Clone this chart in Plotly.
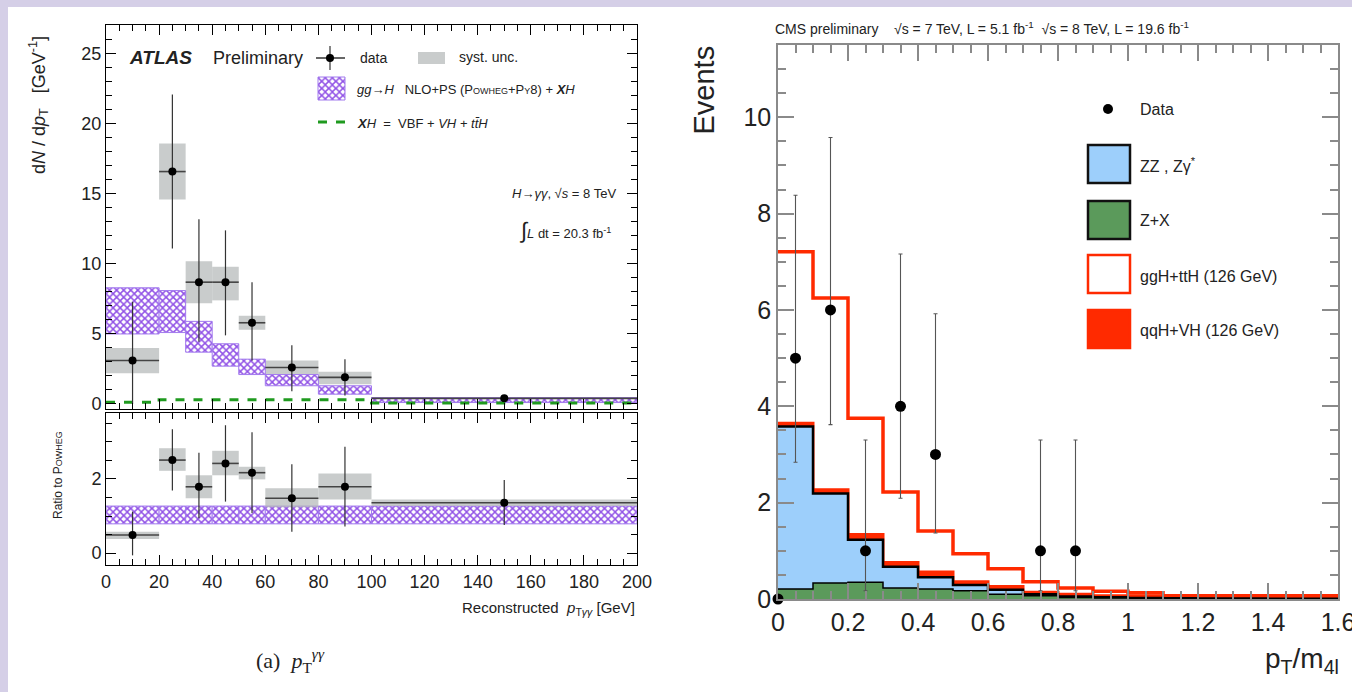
import numpy as np
import plotly.graph_objects as go

W, H = 1352, 692

# ---------------- ATLAS: pT(gamma gamma) spectrum ----------------
atlas_edges = [0, 20, 30, 40, 50, 60, 80, 100, 200]
atlas_data = [3.1, 16.6, 8.7, 8.7, 5.8, 2.6, 1.9, 0.4]
atlas_err_up = [4.2, 5.5, 4.5, 3.7, 2.9, 1.6, 1.3, 0.2]
atlas_err_dn = [3.1, 5.5, 4.25, 3.8, 2.7, 1.7, 1.3, 0.2]
atlas_syst_lo = [2.2, 14.6, 7.2, 7.4, 5.3, 2.1, 1.4, 0.3]
atlas_syst_hi = [4.0, 18.6, 10.2, 9.8, 6.3, 3.1, 2.3, 0.5]
powheg_lo = [5.0, 5.1, 3.7, 2.7, 2.1, 1.3, 0.7, 0.1]
powheg_hi = [8.3, 8.1, 5.9, 4.3, 3.2, 2.1, 1.3, 0.45]
xh_pred = [0.12, 0.3, 0.3, 0.3, 0.3, 0.3, 0.3, 0.07]

# ratio to POWHEG
ratio_data = [0.49, 2.51, 1.79, 2.42, 2.17, 1.48, 1.79, 1.36]
ratio_err_up = [0.63, 0.83, 0.92, 1.03, 1.09, 0.92, 1.08, 0.61]
ratio_err_dn = [0.55, 0.82, 0.85, 1.03, 1.09, 0.90, 1.07, 0.60]
ratio_syst_lo = [0.38, 2.22, 1.48, 2.10, 1.99, 1.24, 1.45, 1.27]
ratio_syst_hi = [0.58, 2.83, 2.10, 2.76, 2.33, 1.75, 2.15, 1.45]
ratio_band_lo = [0.79, 0.79, 0.79, 0.79, 0.79, 0.79, 0.79, 0.79]
ratio_band_hi = [1.27, 1.27, 1.27, 1.27, 1.27, 1.27, 1.27, 1.27]

# ---------------- CMS: pT/m4l ----------------
cms_edges = [0.0, 0.1, 0.2, 0.3, 0.4, 0.5, 0.6, 0.7, 0.8, 0.9, 1.0,
             1.1, 1.2, 1.3, 1.4, 1.5, 1.6]
cms_zx = [0.21, 0.33, 0.35, 0.23, 0.21, 0.17, 0.10, 0.07, 0.03, 0.02,
          0.01, 0.01, 0.005, 0.005, 0.0, 0.0]
cms_zz = [3.37, 1.86, 0.88, 0.44, 0.24, 0.12, 0.09, 0.03, 0.02, 0.015,
          0.01, 0.005, 0.005, 0.005, 0.005, 0.005]
cms_qqh = [0.07, 0.08, 0.11, 0.09, 0.11, 0.07, 0.07, 0.04, 0.05, 0.035,
           0.05, 0.035, 0.04, 0.04, 0.045, 0.045]
cms_ggh = [3.56, 3.98, 2.41, 1.46, 0.85, 0.58, 0.37, 0.22, 0.13, 0.09,
           0.06, 0.02, 0.02, 0.02, 0.02, 0.02]
cms_x = [0.0, 0.05, 0.15, 0.25, 0.35, 0.45, 0.75, 0.85]
cms_n = [0, 5, 6, 1, 4, 3, 1, 1]
cms_err_up = [0.0, 3.38, 3.58, 2.30, 3.16, 2.92, 2.30, 2.30]
cms_err_dn = [0.0, 2.16, 2.38, 0.83, 1.91, 1.63, 0.83, 0.83]

FONT = "Liberation Sans, Arial, sans-serif"
SERIF = "Liberation Serif, Times New Roman, serif"
TXT = "#222222"
PURPLE = "#9152e6"
GRAYBOX = "rgba(180,184,184,0.72)"
GREEN = "#1f9a1f"
RED = "#ff2a00"


def px(x):
    return x / W


def py(y):
    return 1 - y / H


edges = np.array(atlas_edges, dtype=float)
centers = (edges[:-1] + edges[1:]) / 2
widths = edges[1:] - edges[:-1]

HATCH = dict(shape="x", fgcolor=PURPLE, bgcolor="white", size=5,
             solidity=0.5)

fig = go.Figure()


def band(lo, hi, xa, ya, kind):
    lo = np.array(lo)
    hi = np.array(hi)
    if kind == "hatch":
        marker = dict(color="white", pattern=HATCH,
                      line=dict(color="#a27aee", width=1))
    else:
        marker = dict(color=GRAYBOX, line=dict(width=0))
    fig.add_trace(go.Bar(x=centers, y=hi - lo, base=lo, width=widths,
                         marker=marker, xaxis=xa, yaxis=ya,
                         showlegend=False, hoverinfo="skip"))


def points(vals, up, dn, xa, ya):
    fig.add_trace(go.Scatter(
        x=centers, y=vals, mode="markers", xaxis=xa, yaxis=ya,
        marker=dict(color="black", size=8),
        error_y=dict(type="data", symmetric=False, array=up, arrayminus=dn,
                     width=0, color="#333333", thickness=1.2),
        error_x=dict(type="data", array=widths / 2, width=0,
                     color="#444444", thickness=1.6),
        showlegend=False))


# upper ATLAS panel
band(atlas_syst_lo, atlas_syst_hi, "x", "y", "gray")
band(powheg_lo, powheg_hi, "x", "y", "hatch")
fig.add_trace(go.Scatter(
    x=list(edges), y=xh_pred + [xh_pred[-1]], mode="lines", line_shape="hv",
    line=dict(color=GREEN, dash="dash", width=3), xaxis="x", yaxis="y",
    showlegend=False))
points(atlas_data, atlas_err_up, atlas_err_dn, "x", "y")

# ratio panel
band(ratio_band_lo, ratio_band_hi, "x2", "y2", "hatch")
band(ratio_syst_lo, ratio_syst_hi, "x2", "y2", "gray")
points(ratio_data, ratio_err_up, ratio_err_dn, "x2", "y2")

# CMS stacked histogram (drawn from the top of the stack down)
s_zx = np.array(cms_zx)
s_zz = s_zx + np.array(cms_zz)
s_qqh = s_zz + np.array(cms_qqh)
s_ggh = s_qqh + np.array(cms_ggh)


def step(stack, fillcolor, linecolor, lw):
    fig.add_trace(go.Scatter(
        x=cms_edges, y=list(stack) + [stack[-1]], mode="lines",
        line_shape="hv", fill="tozeroy", fillcolor=fillcolor,
        line=dict(color=linecolor, width=lw), xaxis="x3", yaxis="y3",
        showlegend=False))


step(s_ggh, "white", RED, 3.5)
step(s_qqh, RED, RED, 3)
step(s_zz, "#9dcffb", "black", 2.5)
step(s_zx, "#5b9a5b", "black", 1.5)

fig.add_trace(go.Scatter(
    x=cms_x, y=cms_n, mode="markers", xaxis="x3", yaxis="y3",
    marker=dict(color="black", size=11), cliponaxis=False,
    error_y=dict(type="data", symmetric=False, array=cms_err_up,
                 arrayminus=cms_err_dn, width=2, color="#555555",
                 thickness=1.1),
    showlegend=False))

# full-page overlay axis in pixel units for the hatched legend swatch
fig.add_trace(go.Scatter(
    x=[318, 345, 345, 318, 318], y=[77, 77, 100, 100, 77], mode="lines",
    fill="toself", fillcolor="white", fillpattern=HATCH,
    line=dict(color="#a27aee", width=1), xaxis="x4", yaxis="y4",
    showlegend=False, hoverinfo="skip"))

atlas_axis = dict(showline=True, linecolor="black", linewidth=1,
                  mirror="allticks", ticks="inside", tickcolor="black",
                  showgrid=False, zeroline=False, automargin=False,
                  tickfont=dict(family=FONT, size=18, color=TXT))
cms_axis = dict(showline=True, linecolor="#8a8a8a", linewidth=1.5,
                mirror="allticks", ticks="inside", tickcolor="#8a8a8a",
                tickwidth=1.5, showgrid=False, zeroline=False,
                automargin=False, ticklabeloverflow="allow",
                tickfont=dict(family=FONT, size=25, color=TXT))

fig.update_layout(
    template="none",
    width=W, height=H, margin=dict(l=0, r=0, t=0, b=0, pad=0),
    autosize=False,
    paper_bgcolor="#d5cfe7", plot_bgcolor="rgba(0,0,0,0)",
    barmode="overlay", showlegend=False,
    xaxis=dict(atlas_axis, domain=[px(106), px(637)], range=[0, 200],
               anchor="y", dtick=20, ticklen=10, showticklabels=False,
               minor=dict(dtick=5, ticklen=6, ticks="inside",
                          tickcolor="black")),
    yaxis=dict(atlas_axis, domain=[py(409), py(25)], range=[-0.36, 27.07],
               anchor="x", dtick=5, ticklen=10,
               minor=dict(dtick=1, ticklen=6, ticks="inside",
                          tickcolor="black")),
    xaxis2=dict(atlas_axis, domain=[px(106), px(637)], range=[0, 200],
                anchor="y2", dtick=20, ticklen=10,
                minor=dict(dtick=5, ticklen=6, ticks="inside",
                           tickcolor="black")),
    yaxis2=dict(atlas_axis, domain=[py(565), py(413)], range=[-0.32, 3.78],
                anchor="x2", dtick=2, ticklen=10,
                minor=dict(dtick=0.5, ticklen=6, ticks="inside",
                           tickcolor="black")),
    xaxis3=dict(cms_axis, domain=[px(778), px(1338)], range=[0, 1.6],
                anchor="y3", dtick=0.2, ticklen=16,
                minor=dict(dtick=0.05, ticklen=8, ticks="inside",
                           tickcolor="#8a8a8a")),
    yaxis3=dict(cms_axis, domain=[py(599), py(45)], range=[0, 11.5],
                anchor="x3", dtick=2, ticklen=16,
                minor=dict(dtick=0.5, ticklen=8, ticks="inside",
                           tickcolor="#8a8a8a")),
    xaxis4=dict(domain=[0, 1], range=[0, W], anchor="y4", visible=False,
                fixedrange=True, automargin=False),
    yaxis4=dict(domain=[0, 1], range=[H, 0], anchor="x4", visible=False,
                fixedrange=True, automargin=False),
)

shapes = [
    # white page panel
    dict(type="rect", xref="paper", yref="paper", x0=px(8), x1=1,
         y0=0, y1=py(7), fillcolor="white", line=dict(width=0),
         layer="below"),
    # ATLAS legend: data glyph
    dict(type="line", xref="x4", yref="y4", x0=316, x1=345, y0=58, y1=58,
         line=dict(color="#333333", width=1.5)),
    dict(type="line", xref="x4", yref="y4", x0=330, x1=330, y0=46, y1=70,
         line=dict(color="#333333", width=1.2)),
    dict(type="circle", xref="x4", yref="y4", x0=326, x1=334, y0=54, y1=62,
         fillcolor="black", line=dict(color="black", width=0)),
    # syst. unc. glyph
    dict(type="rect", xref="x4", yref="y4", x0=418, x1=445, y0=52, y1=64,
         fillcolor=GRAYBOX, line=dict(width=0)),
    # XH glyph
    dict(type="line", xref="x4", yref="y4", x0=318, x1=346, y0=122, y1=122,
         line=dict(color=GREEN, width=3, dash="dash")),
    # CMS legend glyphs
    dict(type="circle", xref="x4", yref="y4", x0=1103, x1=1113, y0=104,
         y1=114, fillcolor="black", line=dict(width=0)),
    dict(type="rect", xref="x4", yref="y4", x0=1088, x1=1130, y0=145,
         y1=183, fillcolor="#9dcffb", line=dict(color="#111111", width=2.5)),
    dict(type="rect", xref="x4", yref="y4", x0=1088, x1=1130, y0=201,
         y1=239, fillcolor="#5b9a5b", line=dict(color="#111111", width=2.5)),
    dict(type="rect", xref="x4", yref="y4", x0=1088, x1=1130, y0=255,
         y1=293, fillcolor="white", line=dict(color=RED, width=2.5)),
    dict(type="rect", xref="x4", yref="y4", x0=1088, x1=1130, y0=310,
         y1=348, fillcolor=RED, line=dict(color=RED, width=2.5)),
]
fig.update_layout(shapes=shapes)

SC = "<span style='font-size:9px'>"
NB = "\u00a0"


def note(text, x, y, size, xanchor="left", yanchor="middle", angle=0,
         family=FONT, color=TXT):
    fig.add_annotation(text=text, x=px(x), y=py(y), xref="paper",
                       yref="paper", xanchor=xanchor, yanchor=yanchor,
                       showarrow=False, textangle=angle,
                       font=dict(family=family, size=size, color=color))


# ATLAS texts
note("<b><i>ATLAS</i></b>", 127, 58, 19)
note("Preliminary", 211, 58, 18)
note("data", 358, 58, 14)
note("syst. unc.", 457, 57, 14)
note("<i>gg</i>→<i>H</i>" + NB * 3 + "NLO+PS (P" + SC + "OWHEG</span>+P"
     + SC + "Y</span>8) + <b><i>X</i></b><i>H</i>", 355, 89, 13)
note("<b><i>X</i></b><i>H</i>" + NB * 2 + "=" + NB * 2 + "VBF + <i>VH</i> + "
     "<i>tt\u0304H</i>", 355, 123, 13)
note("<i>H</i>→<i>γγ</i>, √<i>s</i> = 8 TeV", 618, 193, 13,
     xanchor="right")
note("<span style='font-size:22px'>∫</span><i>L</i> dt = 20.3 fb<sup>-1</sup>",
     613, 230, 13, xanchor="right")
note("d<i>N</i> / d<i>p</i><sub>T</sub>" + NB * 3 + "[GeV<sup>-1</sup>]",
     38, 34, 18, xanchor="center", yanchor="top", angle=-90)
note("Ratio to P" + SC + "OWHEG</span>", 58, 475, 12, xanchor="center",
     angle=-90)
note("Reconstructed" + NB * 2 + "<i>p</i><sub>T<i>γγ</i></sub> [GeV]",
     637, 608, 15, xanchor="right")
note("(a)" + NB * 2 + "<i>p</i><sub>T</sub><sup><i>γγ</i></sup>",
     290, 660, 22, xanchor="center", family=SERIF)

# CMS texts
note("CMS preliminary" + NB * 4 + "√s = 7 TeV, L = 5.1 fb<sup>-1</sup>"
     + NB * 2 + "√s = 8 TeV, L = 19.6 fb<sup>-1</sup>", 773, 28, 14)
note("Events", 703, 44, 29, xanchor="center", yanchor="top", angle=-90)
note("p<sub>T</sub>/m<sub>4l</sub>", 1341, 660, 28, xanchor="right")
note("Data", 1138, 109, 16)
note("ZZ , Zγ<sup>*</sup>", 1138, 165, 16)
note("Z+X", 1138, 221, 16)
note("ggH+ttH (126 GeV)", 1138, 276, 16)
note("qqH+VH (126 GeV)", 1138, 330, 16)

fig.write_html("out.html")
